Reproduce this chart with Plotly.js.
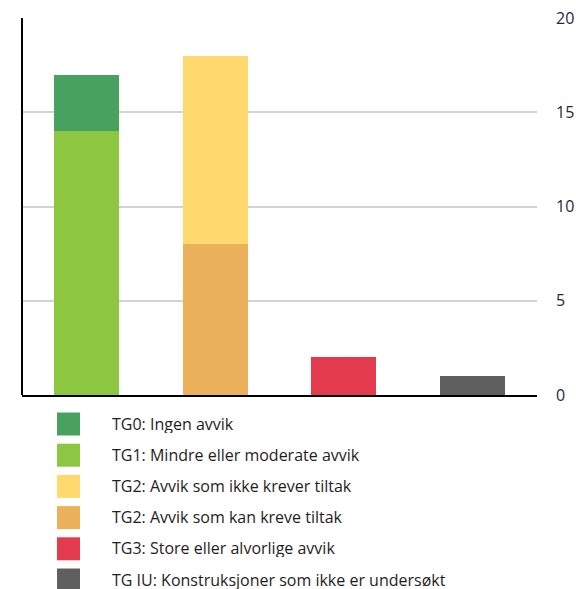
<!DOCTYPE html>
<html><head><meta charset="utf-8">
<script src="https://cdn.plot.ly/plotly-3.0.1.min.js"></script>
<style>html,body{margin:0;padding:0;background:#fff}</style>
</head><body><div id="chart" style="width:576px;height:589px"></div>
<script>
const categories = ["A", "B", "C", "D"];
const seriesNames = [
  "TG IU: Konstruksjoner som ikke er undersøkt",
  "TG3: Store eller alvorlige avvik",
  "TG2: Avvik som kan kreve tiltak",
  "TG2: Avvik som ikke krever tiltak",
  "TG1: Mindre eller moderate avvik",
  "TG0: Ingen avvik"
];
const tgIU = [0, 0, 0, 1];
const tg3 = [0, 0, 2, 0];
const tg2kan = [0, 8, 0, 0];
const tg2ikke = [0, 10, 0, 0];
const tg1 = [14, 0, 0, 0];
const tg0 = [3, 0, 0, 0];
const colors = ["#5f5f5f", "#e43a4d", "#ecb25b", "#ffd86e", "#8dc641", "#48a15e"];
const seriesValues = [tgIU, tg3, tg2kan, tg2ikke, tg1, tg0];

const traces = seriesValues.map((v, i) => ({
  type: "bar", x: categories, y: v, name: seriesNames[i],
  marker: {color: colors[i], line: {width: 0}}, showlegend: false, hoverinfo: "skip"
}));

// plot area in px
const L = 22, R = 537, T = 18, B = 395;
const W = 576, H = 589;
const px2x = p => (p - L) / (R - L);
const py2y = p => (B - p) / (B - T);

// custom legend (top to bottom: reverse order)
const shapes = [], annotations = [];
const legendOrder = [5, 4, 3, 2, 1, 0];
legendOrder.forEach((si, k) => {
  const top = 412.5 + k * 31.2;
  shapes.push({type: "rect", xref: "paper", yref: "paper",
    x0: px2x(57), x1: px2x(80), y0: py2y(top + 23), y1: py2y(top),
    fillcolor: colors[si], line: {width: 0}});
  annotations.push({xref: "paper", yref: "paper", x: px2x(111), y: py2y(top + 11),
    xanchor: "left", yanchor: "middle", showarrow: false, text: seriesNames[si],
    height: 18, borderpad: 0, valign: "middle",
    font: {family: "'Open Sans', sans-serif", size: 16, color: "#1e1e1e"}});
});

const layout = {
  width: W, height: H,
  margin: {l: L, r: W - R, t: T, b: H - B, pad: 0},
  barmode: "stack", bargap: 0.495,
  paper_bgcolor: "#fff", plot_bgcolor: "#fff",
  showlegend: false,
  xaxis: {range: [-0.5, 3.5], showticklabels: false, showgrid: false, zeroline: false,
    showline: true, linecolor: "#000", linewidth: 2, ticks: "", fixedrange: true},
  yaxis: {side: "right", range: [0, 20], dtick: 5, tick0: 0, showgrid: true,
    gridcolor: "#d3d3d3", gridwidth: 2, zeroline: false, showline: false, ticks: "",
    ticklabelstandoff: 18, automargin: false,
    tickfont: {family: "'Open Sans', sans-serif", size: 16, color: "#1f2a36"}},
  shapes: shapes.concat([{type: "line", xref: "paper", yref: "paper", x0: 0, x1: 0, y0: 0, y1: 1,
    line: {color: "#000", width: 2}}]),
  annotations: annotations
};
Plotly.newPlot("chart", traces, layout, {displayModeBar: false, staticPlot: true});
</script></body></html>
